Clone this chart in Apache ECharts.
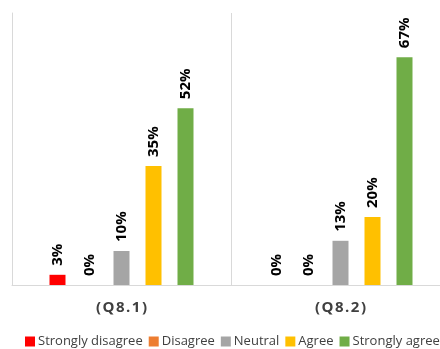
<!DOCTYPE html>
<html>
<head>
<meta charset="utf-8">
<script src="https://cdn.jsdelivr.net/npm/echarts@6/dist/echarts.min.js"></script>
<style>
  html, body { margin: 0; padding: 0; background: #fff; }
  #root { width: 440px; height: 349px; }
</style>
</head>
<body>
<div id="root"></div>
<script>
// answers per question, in percent
const categories = ['(Q8.1)', '(Q8.2)'];
const seriesNames = ['Strongly disagree', 'Disagree', 'Neutral', 'Agree', 'Strongly agree'];
const stronglyDisagree = [3, 0];
const disagree = [0, 0];
const neutral = [10, 13];
const agree = [35, 20];
const stronglyAgree = [52, 67];
const colors = ['#ff0000', '#ed7d31', '#a5a5a5', '#ffc000', '#70ad47'];

const values = [stronglyDisagree, disagree, neutral, agree, stronglyAgree];

const chart = echarts.init(document.getElementById('root'));

const option = {
  animation: false,
  textStyle: { fontFamily: 'Open Sans' },
  legend: {
    data: seriesNames,
    left: 25,
    top: 335,
    padding: 0,
    width: 600,
    itemWidth: 10,
    itemHeight: 10,
    itemGap: 6,
    icon: 'rect',
    textStyle: { fontSize: 13, color: '#404040', padding: [0, 0, 0, -2] }
  },
  grid: { left: 12, top: 13, width: 438, height: 272, outerBoundsMode: 'none', containLabel: false },
  xAxis: {
    type: 'category',
    data: categories,
    axisLine: { lineStyle: { color: '#d9d9d9' } },
    axisTick: { show: false },
    splitLine: { show: true, lineStyle: { color: '#d9d9d9' } },
    axisLabel: {
      margin: 15,
      fontSize: 15,
      fontWeight: 'bold',
      color: '#404040',
      formatter: (v) => v.split('').join('\u200a')
    }
  },
  yAxis: {
    type: 'value',
    min: 0,
    max: 80,
    axisLine: { show: true, lineStyle: { color: '#d9d9d9' } },
    axisLabel: { show: false },
    axisTick: { show: false },
    splitLine: { show: false }
  },
  series: seriesNames.map((name, i) => ({
    name: name,
    type: 'bar',
    data: values[i],
    barWidth: 16,
    barGap: '100%',
    itemStyle: { color: colors[i] },
    label: {
      show: true,
      position: 'top',
      rotate: 90,
      align: 'left',
      verticalAlign: 'middle',
      distance: 9,
      fontSize: 15,
      fontWeight: 'bold',
      color: '#000',
      formatter: (p) => p.value + '%'
    }
  }))
};

chart.setOption(option);
</script>
</body>
</html>
